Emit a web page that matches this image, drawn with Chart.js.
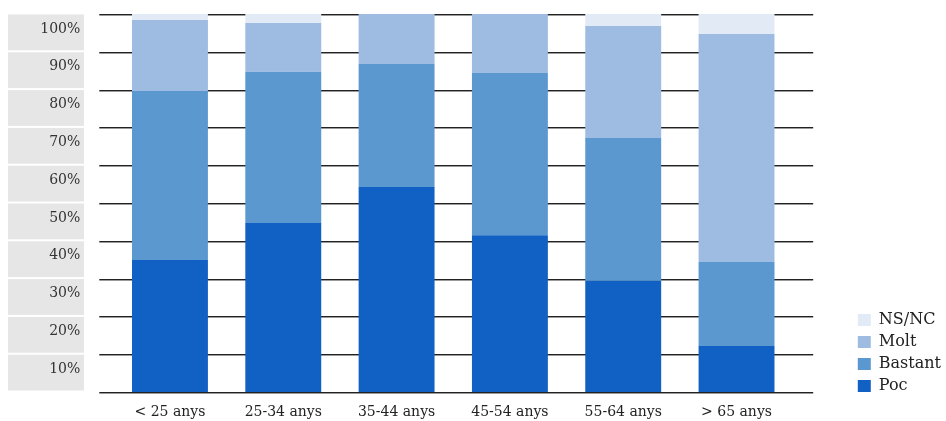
<!DOCTYPE html>
<html>
<head>
<meta charset="utf-8">
<script src="https://cdn.jsdelivr.net/npm/chart.js@4"></script>
<style>
  html, body { margin: 0; padding: 0; background: #fff; }
  #wrap { width: 946px; height: 421px; }
</style>
</head>
<body>
<div id="wrap"><canvas id="chart" width="946" height="421"></canvas></div>
<script>
// Dades (percentatges per franja d'edat)
const categories = ['< 25 anys', '25-34 anys', '35-44 anys', '45-54 anys', '55-64 anys', '> 65 anys'];
const poc     = [34.9, 44.7, 54.2, 41.5, 29.4, 12.2];
const bastant = [44.7, 40.0, 32.6, 42.9, 37.8, 22.2];
const molt    = [18.8, 12.9, 13.2, 15.6, 29.6, 60.3];
const nsnc    = [1.6, 2.4, 0, 0, 3.2, 5.3];
const yTicks  = [0, 10, 20, 30, 40, 50, 60, 70, 80, 90, 100];

const SERIF = '"DejaVu Serif", "Liberation Serif", serif';

// Caixes grises darrere les etiquetes de l'eix Y
const labelBoxes = {
  id: 'labelBoxes',
  beforeDraw(chart) {
    const { ctx, scales: { y } } = chart;
    ctx.save();
    ctx.fillStyle = '#e6e6e6';
    for (let i = 1; i < yTicks.length; i++) {
      const top = y.getPixelForValue(yTicks[i]);
      const bottom = y.getPixelForValue(yTicks[i - 1]);
      ctx.fillRect(8, top + 0.5, 76, bottom - top - 2);
    }
    ctx.restore();
  }
};

// Línies horitzontals més llargues que l'àrea del gràfic
const gridLines = {
  id: 'gridLines',
  beforeDatasetsDraw(chart) {
    const { ctx, chartArea, scales: { y } } = chart;
    const x0 = chartArea.left - 14;
    const x1 = chartArea.right + 20;
    ctx.save();
    yTicks.forEach(v => {
      const py = Math.round(y.getPixelForValue(v));
      ctx.fillStyle = '#222';
      ctx.fillRect(x0, py, x1 - x0, 1);
      ctx.fillStyle = '#9a9a9a';
      ctx.fillRect(x0, py + 1, x1 - x0, 1);
    });
    ctx.restore();
  }
};

// La llegenda baixa una mica respecte a l'àrea del gràfic
const legendShift = {
  id: 'legendShift',
  afterLayout(chart) {
    chart.legend.top += 8;
    chart.legend.bottom += 8;
  }
};

new Chart(document.getElementById('chart'), {
  type: 'bar',
  data: {
    labels: categories,
    datasets: [
      { label: 'Poc', data: poc, backgroundColor: '#1160c4' },
      { label: 'Bastant', data: bastant, backgroundColor: '#5b98d0' },
      { label: 'Molt', data: molt, backgroundColor: '#9ebbe2' },
      { label: 'NS/NC', data: nsnc, backgroundColor: '#e2eaf6' }
    ]
  },
  options: {
    responsive: false,
    animation: false,
    layout: { padding: { top: 14, bottom: 0, left: 0, right: -5 } },
    datasets: { bar: { barPercentage: 0.67, categoryPercentage: 1.0, borderWidth: 0 } },
    scales: {
      x: {
        stacked: true,
        grid: { display: false, drawTicks: false },
        border: { display: false },
        ticks: { color: '#222', font: { family: SERIF, size: 14 }, padding: 12, maxRotation: 0 },
        afterFit(s) { s.height = 29; s.paddingLeft = 0; s.paddingRight = 0; }
      },
      y: {
        stacked: true,
        min: 0,
        max: 100,
        grid: { display: false, drawTicks: false },
        border: { display: false },
        afterBuildTicks(s) { s.ticks = yTicks.map(v => ({ value: v })); },
        ticks: {
          color: '#333',
          font: { family: SERIF, size: 14 },
          padding: 33,
          labelOffset: 15,
          callback: v => (v === 0 ? '' : v + '%')
        },
        afterFit(s) { s.width = 113.3; s.paddingTop = 0; s.paddingBottom = 0; }
      },
      yGap: {
        position: 'right',
        display: true,
        grid: { display: false, drawTicks: false },
        border: { display: false },
        ticks: { display: false },
        afterFit(s) { s.width = 58.6; s.paddingTop = 0; s.paddingBottom = 0; }
      }
    },
    plugins: {
      legend: {
        position: 'right',
        align: 'end',
        fullSize: false,
        reverse: true,
        labels: {
          boxWidth: 13,
          boxHeight: 12,
          padding: 6,
          color: '#222',
          font: { family: SERIF, size: 16 }
        }
      },
      tooltip: { enabled: false }
    }
  },
  plugins: [labelBoxes, gridLines, legendShift]
});
</script>
</body>
</html>
